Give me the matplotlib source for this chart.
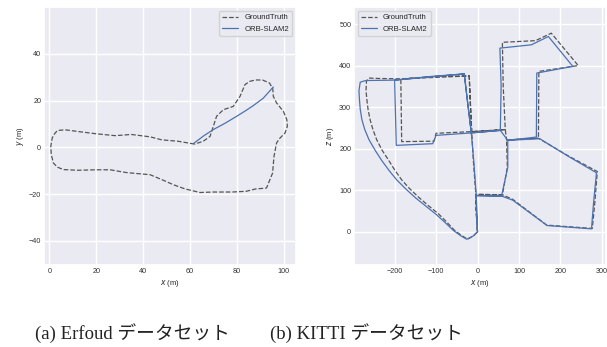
import matplotlib
matplotlib.use("Agg")
import matplotlib.pyplot as plt
import seaborn as sns

sns.set_theme(style="darkgrid")
plt.rcParams['font.family'] = ['Liberation Sans', 'DejaVu Sans']

# Erfoud trajectory (x, y)
erfoud_gt_x = [62, 55, 48, 43, 35, 28, 20, 12, 6.7, 3.5, 2.4, 1.2, 0.6, 0.8, 1.7, 3.5, 6, 12, 20, 26,
               33, 43, 48, 53, 58, 64.3, 70, 78, 84, 88, 92.7, 95.3, 95.9, 97, 98.5, 100.6, 101.6,
               101.4, 99.9, 97, 95.6, 95.4, 94, 91, 88, 85.5, 83.5, 81.4, 78.5, 74.3, 71.4, 70,
               68.6, 65.7, 62]
erfoud_gt_y = [1.4, 2.6, 3.2, 4.5, 5.5, 5, 5.8, 6.8, 7.5, 7.2, 6.1, 4, 0.4, -3, -6.7, -8.5, -9.5, -9.8, -9.6, -9.6,
               -10.8, -11.7, -13.8, -16, -17.8, -19.3, -19.1, -19.1, -18.8, -17.8, -17.4, -11, -3.9, 1.9, 4, 6.1, 9,
               11.8, 15.4, 19, 21.8, 25, 27.5, 28.8, 28.8, 28.2, 26.8, 21.8, 17.5, 16.1, 13.3, 9,
               4.7, 2.6, 1.4]
erfoud_orb_x = [61.5, 66, 70, 75, 80, 84, 87, 91.3, 95.6]
erfoud_orb_y = [1.6, 5, 7.6, 10.3, 13.3, 15.8, 17.8, 21, 25.8]

# KITTI trajectory (x, z)
kitti_gt_x = [0, -3, -4, -10, -14, -18, -20, -100, -185, -240, -262, -268,
              -269, -267, -264, -259, -252, -243, -230, -215, -200, -183, -164, -143, -120, -95,
              -75, -56, -40, -24, -10, 0,
              -3, -4, 60, 85, 167, 277, 283, 289, 220, 147, 70, 67, -14, -100, -105, -183, -185,
              -20, -14, 67, 62, 60, 140, 178, 243, 148, 147, 70, 72, 60, -4]
kitti_gt_z = [0, 45, 90, 170, 241, 320, 375, 374, 368, 369, 370, 362,
              340, 318, 294, 269, 245, 221, 196, 173, 149, 125, 104, 84, 64, 44,
              24, 4, -8, -18, -10, 0,
              45, 90, 89, 78, 16, 8, 70, 145, 182, 225, 221, 246, 241, 237, 218, 217, 368,
              375, 241, 246, 350, 456, 460, 478, 400, 386, 225, 221, 155, 89, 90]
kitti_orb_x = [0, -2, -3, -9, -15, -25, -32, -110, -200, -270, -283,
               -286, -285, -283, -279, -272, -262, -247, -230, -213, -195, -173, -150, -125, -100,
               -78, -58, -40, -26, -10, 0,
               -2, -3, 58, 85, 168, 275, 280, 287, 220, 150, 73, 55, -15, -100, -108, -196, -200,
               -32, -15, 55, 57, 54, 130, 171, 230, 143, 142, 73, 73, 58, -3]
kitti_orb_z = [0, 45, 87, 170, 238, 320, 380, 374, 365, 364, 360,
               340, 320, 295, 270, 246, 222, 196, 170, 147, 125, 103, 82, 62, 42,
               22, 3, -10, -18, -10, 0,
               45, 87, 86, 76, 15, 7, 70, 142, 181, 224, 220, 244, 238, 232, 212, 208, 365,
               380, 238, 244, 350, 442, 450, 470, 398, 382, 228, 220, 155, 86, 87]

GT_COLOR = '#555555'
ORB_COLOR = '#4c72b0'

fig = plt.figure(figsize=(6.07, 3.47), dpi=100)
ax1 = fig.add_axes([44 / 607, 82 / 347, 252 / 607, 258 / 347])
ax2 = fig.add_axes([354 / 607, 82 / 347, 252 / 607, 258 / 347])

ax1.plot(erfoud_gt_x, erfoud_gt_y, '--', color=GT_COLOR, lw=0.9, label='GroundTruth')
ax1.plot(erfoud_orb_x, erfoud_orb_y, '-', color=ORB_COLOR, lw=0.9, label='ORB-SLAM2')
ax1.set_xlim(-2.3, 105.3)
ax1.set_ylim(-50.3, 60)
ax1.set_xticks([0, 20, 40, 60, 80, 100])
ax1.set_yticks([-40, -20, 0, 20, 40])
ax1.set_xlabel('$x$ (m)', fontsize=5.5, labelpad=2)
ax1.set_ylabel('$y$ (m)', fontsize=5.5, labelpad=2)
ax1.legend(loc='upper right', fontsize=5.6)

ax2.plot(kitti_gt_x, kitti_gt_z, '--', color=GT_COLOR, lw=0.9, label='GroundTruth')
ax2.plot(kitti_orb_x, kitti_orb_z, '-', color=ORB_COLOR, lw=0.9, label='ORB-SLAM2')
ax2.set_xlim(-298, 310)
ax2.set_ylim(-80, 541)
ax2.set_xticks([-200, -100, 0, 100, 200, 300])
ax2.set_yticks([0, 100, 200, 300, 400, 500])
ax2.set_xlabel('$x$ (m)', fontsize=5.5, labelpad=2)
ax2.set_ylabel('$z$ (m)', fontsize=5.5, labelpad=2)
ax2.legend(loc='upper left', fontsize=5.6)

for ax in (ax1, ax2):
    ax.tick_params(labelsize=5.2, pad=2, length=0, labelcolor='#333333')

cap_font = ['Liberation Serif', 'Noto Sans CJK JP']
fig.text(132 / 607, 14 / 347, '(a) Erfoud データセット', ha='center', va='center',
         fontsize=13.5, family=cap_font, color='#222222')
fig.text(366 / 607, 14 / 347, '(b) KITTI データセット', ha='center', va='center',
         fontsize=13.5, family=cap_font, color='#222222')

fig.savefig('out.png', dpi=100, facecolor='white')
